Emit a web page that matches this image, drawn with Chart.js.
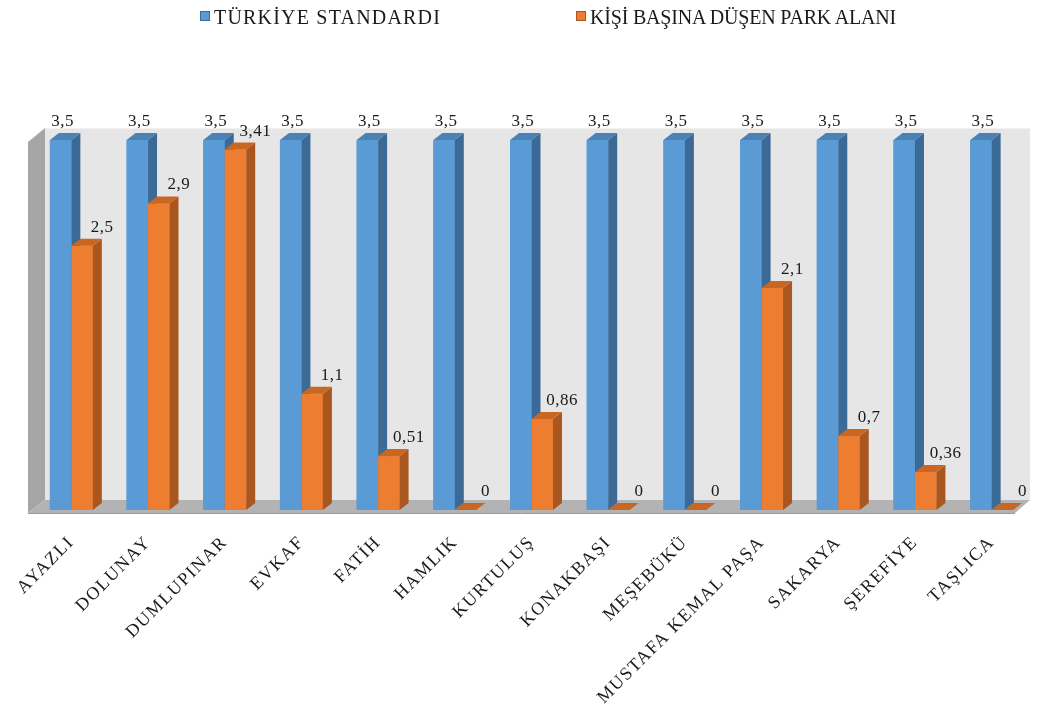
<!DOCTYPE html>
<html>
<head>
<meta charset="utf-8">
<script src="https://cdn.jsdelivr.net/npm/chart.js@4.4.0/dist/chart.umd.min.js"></script>
<style>
body { margin: 0; background: #fff; }
#wrap { position: relative; width: 1043px; height: 717px; }
#legend { position: absolute; top: 0; left: 0; width: 100%; height: 40px; font-family: 'Liberation Serif', serif; font-size: 20px; color: #1a1a1a; }
.item { position: absolute; top: 6px; white-space: nowrap; }
.box { display: inline-block; width: 8px; height: 8px; margin-right: 4px; vertical-align: 3px; }
</style>
</head>
<body>
<div id="wrap">
  <div id="legend"></div>
  <canvas id="myChart" width="1043" height="717"></canvas>
</div>
<script>
// chart data
const categories = ['AYAZLI', 'DOLUNAY', 'DUMLUPINAR', 'EVKAF', 'FATİH', 'HAMLIK', 'KURTULUŞ',
    'KONAKBAŞI', 'MEŞEBÜKÜ', 'MUSTAFA KEMAL PAŞA', 'SAKARYA', 'ŞEREFİYE', 'TAŞLICA'];
const seriesNames = ['TÜRKİYE STANDARDI', 'KİŞİ BAŞINA DÜŞEN PARK ALANI'];
const standardValues = [3.5, 3.5, 3.5, 3.5, 3.5, 3.5, 3.5, 3.5, 3.5, 3.5, 3.5, 3.5, 3.5];
const parkValues = [2.5, 2.9, 3.41, 1.1, 0.51, 0, 0.86, 0, 0, 2.1, 0.7, 0.36, 0];

const FONT = "'Liberation Serif', 'Times New Roman', serif";
const DEPTH_X = 9, DEPTH_Y = 7;

// front / side / top colours per series
const faces = [
    { front: '#5b9bd5', side: '#3b6a96', top: '#4b82b5' },
    { front: '#ed7d31', side: '#a9561f', top: '#c96622' }
];
const labelShift = [2, 20];

function fmt(v) {
    return String(v).replace('.', ',');
}

// html legend
const legendEl = document.getElementById('legend');
const legendLeft = [200, 576];
const legendSpacing = ['1.2px', '-0.2px'];
seriesNames.forEach((name, i) => {
    const item = document.createElement('span');
    item.className = 'item';
    item.style.left = legendLeft[i] + 'px';
    item.style.letterSpacing = legendSpacing[i];
    const box = document.createElement('span');
    box.className = 'box';
    box.style.background = faces[i].front;
    box.style.border = '1px solid ' + faces[i].side;
    item.appendChild(box);
    item.appendChild(document.createTextNode(name));
    legendEl.appendChild(item);
});

const box3d = {
    id: 'box3d',
    beforeUpdate(chart) {
        chart.ctx.letterSpacing = '1.5px';
    },
    beforeDraw(chart) {
        chart.ctx.letterSpacing = '1.5px';
    },
    beforeDatasetsDraw(chart) {
        // walls and floor behind the bars
        const ctx = chart.ctx;
        const a = chart.chartArea;
        const fl = a.left - 5, bl = a.left + 12;
        const bt = a.top - 12, bb = a.bottom - 10;
        const fb = a.bottom + 3, fr = a.right - 15, br = a.right;
        ctx.save();
        ctx.fillStyle = '#e6e6e6';
        ctx.fillRect(bl, bt, br - bl, bb - bt);
        ctx.strokeStyle = '#f2f2f2';
        ctx.beginPath();
        ctx.moveTo(bl, bt + 0.5);
        ctx.lineTo(br, bt + 0.5);
        ctx.stroke();
        // left wall
        ctx.fillStyle = '#a5a5a5';
        ctx.beginPath();
        ctx.moveTo(fl, a.top + 2);
        ctx.lineTo(bl, bt);
        ctx.lineTo(bl, bb);
        ctx.lineTo(fl, fb);
        ctx.closePath();
        ctx.fill();
        // floor
        ctx.fillStyle = '#b3b3b3';
        ctx.beginPath();
        ctx.moveTo(fl, fb);
        ctx.lineTo(bl, bb);
        ctx.lineTo(br, bb);
        ctx.lineTo(fr, fb);
        ctx.closePath();
        ctx.fill();
        ctx.strokeStyle = '#9a9a9a';
        ctx.beginPath();
        ctx.moveTo(fl, fb + 0.5);
        ctx.lineTo(fr, fb + 0.5);
        ctx.stroke();
        ctx.restore();
    },
    afterDatasetsDraw(chart) {
        const ctx = chart.ctx;
        ctx.save();
        // front, side and top faces, blue first so orange front hides blue side
        chart.data.datasets.forEach((ds, i) => {
            const f = faces[i];
            chart.getDatasetMeta(i).data.forEach(bar => {
                const l = bar.x - bar.width / 2, r = bar.x + bar.width / 2;
                const t = Math.min(bar.y, bar.base), b = bar.base;
                ctx.fillStyle = f.front;
                ctx.fillRect(l, t, r - l, b - t);
                ctx.fillStyle = f.side;
                ctx.beginPath();
                ctx.moveTo(r, t);
                ctx.lineTo(r + DEPTH_X, t - DEPTH_Y);
                ctx.lineTo(r + DEPTH_X, b - DEPTH_Y);
                ctx.lineTo(r, b);
                ctx.closePath();
                ctx.fill();
                ctx.fillStyle = f.top;
                ctx.beginPath();
                ctx.moveTo(l, t);
                ctx.lineTo(r, t);
                ctx.lineTo(r + DEPTH_X, t - DEPTH_Y);
                ctx.lineTo(l + DEPTH_X, t - DEPTH_Y);
                ctx.closePath();
                ctx.fill();
            });
        });
        // value labels
        ctx.font = '17px ' + FONT;
        ctx.letterSpacing = '0.5px';
        ctx.fillStyle = '#1a1a1a';
        ctx.textAlign = 'center';
        ctx.textBaseline = 'alphabetic';
        chart.data.datasets.forEach((ds, i) => {
            chart.getDatasetMeta(i).data.forEach((bar, j) => {
                ctx.fillText(fmt(ds.data[j]), bar.x + labelShift[i], bar.y - 14);
            });
        });
        ctx.restore();
    }
};

const ctx = document.getElementById('myChart').getContext('2d');
const myChart = new Chart(ctx, {
    type: 'bar',
    data: {
        labels: categories,
        datasets: [
            {
                label: seriesNames[0],
                data: standardValues,
                backgroundColor: faces[0].front,
                categoryPercentage: 0.56,
                barPercentage: 1.0
            },
            {
                label: seriesNames[1],
                data: parkValues,
                backgroundColor: faces[1].front,
                categoryPercentage: 0.56,
                barPercentage: 1.0
            }
        ]
    },
    options: {
        responsive: false,
        animation: false,
        layout: { padding: { top: 140, left: 33, right: 13, bottom: 0 } },
        plugins: {
            legend: { display: false },
            tooltip: { enabled: false }
        },
        scales: {
            x: {
                grid: { display: false },
                border: { display: false },
                ticks: {
                    font: { family: FONT, size: 18 },
                    color: '#1a1a1a',
                    minRotation: 45,
                    maxRotation: 45,
                    padding: 14
                },
                afterFit(scale) {
                    scale.height = 207;
                }
            },
            y: {
                display: false,
                min: 0,
                max: 3.5
            }
        }
    },
    plugins: [box3d]
});
</script>
</body>
</html>
